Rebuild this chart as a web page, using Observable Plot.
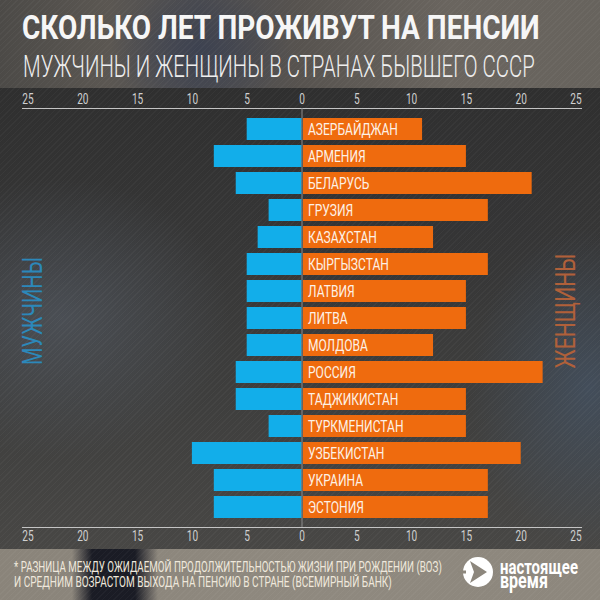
<!DOCTYPE html>
<html>
<head>
<meta charset="utf-8">
<script src="https://cdn.jsdelivr.net/npm/d3@7"></script>
<script src="https://cdn.jsdelivr.net/npm/@observablehq/plot@0.6"></script>
<style>
  html, body { margin: 0; padding: 0; }
  body { width: 600px; height: 600px; overflow: hidden; position: relative; background: #343331; font-family: Roboto, "DejaVu Sans Condensed", sans-serif; }
  .layer { position: absolute; left: 0; width: 600px; }
  #bgTop { top: 0; height: 88px;
    background:
      radial-gradient(ellipse 90px 60px at 200px 50px, rgba(50,58,80,0.55), rgba(50,58,80,0) 100%),
      linear-gradient(90deg, #4c4a47 0%, #5b5752 18%, #4a4b50 33%, #57534f 50%, #6a655f 75%, #67635d 100%); }
  #bgMid { top: 88px; height: 461px;
    background:
      radial-gradient(ellipse 170px 140px at 60px 230px, rgba(90,98,110,0.5), rgba(90,98,110,0) 100%),
      radial-gradient(ellipse 120px 160px at 590px 300px, rgba(70,88,110,0.6), rgba(70,88,110,0) 100%),
      radial-gradient(ellipse 200px 120px at 420px 120px, rgba(50,50,52,0.5), rgba(50,50,52,0) 100%),
      linear-gradient(180deg, #2f2f2f 0%, #373737 35%, #3f3f3e 70%, #484745 100%); }
  #bgBot { top: 549px; height: 51px;
    background:
      linear-gradient(90deg, rgba(20,22,32,0) 72px, rgba(20,22,32,0.95) 92px, rgba(20,22,32,0.95) 135px, rgba(20,22,32,0) 158px),
      linear-gradient(90deg, #8a847a 0%, #8f897f 50%, #8d877d 100%); }
  #stripes { top: 0; height: 600px;
    background: repeating-linear-gradient(135deg, rgba(255,255,255,0.03) 0px, rgba(255,255,255,0.03) 1px, rgba(0,0,0,0) 1px, rgba(0,0,0,0) 4px); }
  #chart { position: absolute; left: 0; top: 88px; }
  #deco { position: absolute; left: 0; top: 0; }
  #deco text { font-family: Roboto, "DejaVu Sans Condensed", sans-serif; }
</style>
</head>
<body>
<div class="layer" id="bgTop"></div>
<div class="layer" id="bgMid"></div>
<div class="layer" id="bgBot"></div>
<div class="layer" id="stripes"></div>

<svg id="deco" width="600" height="600" xmlns="http://www.w3.org/2000/svg">
  <text id="tTitle" font-weight="bold" fill="#f6f6f6">СКОЛЬКО ЛЕТ ПРОЖИВУТ НА ПЕНСИИ</text>
  <text id="tSub" font-weight="300" fill="#eeeeee">МУЖЧИНЫ И ЖЕНЩИНЫ В СТРАНАХ БЫВШЕГО СССР</text>
  <text id="tMen" text-anchor="middle" fill="#2c88ba">МУЖЧИНЫ</text>
  <text id="tWomen" text-anchor="middle" fill="#b0603a">ЖЕНЩИНЫ</text>
  <text id="tNote1" fill="#efe8dc">* РАЗНИЦА МЕЖДУ ОЖИДАЕМОЙ ПРОДОЛЖИТЕЛЬНОСТЬЮ ЖИЗНИ ПРИ РОЖДЕНИИ (ВОЗ)</text>
  <text id="tNote2" fill="#efe8dc">И СРЕДНИМ ВОЗРАСТОМ ВЫХОДА НА ПЕНСИЮ В СТРАНЕ (ВСЕМИРНЫЙ БАНК)</text>
  <g>
    <circle cx="478" cy="572" r="15" fill="#ffffff"/>
    <path d="M470,561 L487,572 L470,583 L474,572 Z" fill="#8d877d"/>
    <rect x="458" y="570.5" width="8" height="3" fill="#8d877d"/>
  </g>
  <text id="tLogo" font-weight="bold" fill="#ffffff"><tspan id="tLogo1">настоящее</tspan><tspan id="tLogo2">время</tspan></text>
</svg>

<div id="chart"></div>

<script>
const countries = ["АЗЕРБАЙДЖАН","АРМЕНИЯ","БЕЛАРУСЬ","ГРУЗИЯ","КАЗАХСТАН","КЫРГЫЗСТАН","ЛАТВИЯ","ЛИТВА","МОЛДОВА","РОССИЯ","ТАДЖИКИСТАН","ТУРКМЕНИСТАН","УЗБЕКИСТАН","УКРАИНА","ЭСТОНИЯ"];
const men   = [5, 8, 6, 3, 4, 5, 5, 5, 5, 6, 6, 3, 10, 8, 8];
const women = [11, 15, 21, 17, 12, 17, 15, 15, 12, 22, 15, 15, 20, 17, 17];
const xTicks = [-25, -20, -15, -10, -5, 0, 5, 10, 15, 20, 25];

const blue = "#12aeea";
const orange = "#ef6b0e";

const data = countries.map((c, i) => ({country: c, men: men[i], women: women[i]}));

const plot = Plot.plot({
  width: 600,
  height: 460,
  marginLeft: 22,
  marginRight: 19,
  marginTop: 20,
  marginBottom: 21,
  style: {background: "transparent", overflow: "visible", fontFamily: "Roboto, 'DejaVu Sans Condensed', sans-serif"},
  x: {domain: [-25.5, 25.5], label: null},
  y: {domain: countries, paddingInner: 0.19, paddingOuter: 0.3, axis: null},
  marks: [
    Plot.frame({anchor: "top", stroke: "#c4c4c4"}),
    Plot.frame({anchor: "bottom", stroke: "#c4c4c4"}),
    Plot.barX(data, {x: d => -d.men, y: "country", fill: blue}),
    Plot.barX(data, {x: "women", y: "country", fill: orange, insetLeft: 1.5}),
    Plot.ruleX([0], {stroke: "#8c8c8c", strokeWidth: 1}),
    Plot.text(data, {x: 0, y: "country", text: "country", textAnchor: "start", dx: 6, fill: "#fdf1e6", fontSize: 16}),
    Plot.axisX(xTicks, {anchor: "top", label: null, tickSize: 0, tickPadding: 5, tickFormat: d => Math.abs(d), fill: "#d0d0d0", fontSize: 14}),
    Plot.axisX(xTicks, {anchor: "bottom", label: null, tickSize: 0, tickPadding: 4, tickFormat: d => Math.abs(d), fill: "#d0d0d0", fontSize: 14})
  ]
});

document.getElementById("chart").appendChild(plot);

// Narrow the glyphs (like the condensed typeface of the original) by reducing
// the font size and stretching vertically about the text's own anchor.
function squeeze(t, factor) {
  const fs = parseFloat(getComputedStyle(t).fontSize);
  const tr = t.getAttribute("transform") || "";
  t.style.fontSize = (fs * factor) + "px";
  t.setAttribute("transform", `${tr} scale(1,${1 / factor})`);
}
let refLen = 0;
plot.querySelectorAll('g[aria-label="text"] text').forEach(t => {
  if (t.textContent === "АЗЕРБАЙДЖАН") refLen = t.getComputedTextLength();
});
const labelFactor = refLen ? 90 / refLen : 0.78;
plot.querySelectorAll('g[aria-label="text"] text').forEach(t => squeeze(t, labelFactor));
plot.querySelectorAll('g[aria-label^="x-axis tick label"] text').forEach(t => squeeze(t, 0.72));

// header / footer texts: width fixed by font size, height by vertical stretch
function fit(id, x, y, targetW, glyphH, glyphRatio, rotate) {
  const t = document.getElementById(id);
  t.setAttribute("font-size", 20);
  const w = t.getComputedTextLength();
  const fs = 20 * targetW / w;
  t.setAttribute("font-size", fs.toFixed(3));
  const k = glyphH / (glyphRatio * fs);
  t.setAttribute("transform", `translate(${x},${y})${rotate ? " rotate(-90)" : ""} scale(1,${k.toFixed(4)})`);
}
const CAP = 0.711, XH = 0.528;
fit("tTitle", 22, 38.5, 518, 24, CAP);
fit("tSub", 23, 77, 512, 22, CAP);
fit("tMen", 42, 311, 108, 20, CAP, true);
fit("tWomen", 575, 311, 115, 20, CAP, true);
fit("tNote1", 14, 572, 428, 10, CAP);
fit("tNote2", 14, 587, 378, 10, CAP);

// logo wordmark: one text, two lines
(function () {
  const t = document.getElementById("tLogo");
  const s1 = document.getElementById("tLogo1"), s2 = document.getElementById("tLogo2");
  s1.setAttribute("font-size", 20); s2.setAttribute("font-size", 20);
  const f1 = 20 * 78 / s1.getComputedTextLength();
  const f2 = 20 * 48 / s2.getComputedTextLength();
  s1.setAttribute("font-size", f1.toFixed(3));
  s2.setAttribute("font-size", f2.toFixed(3));
  const k = 11 / (XH * f1);
  s1.setAttribute("x", 0); s1.setAttribute("y", (574 / k).toFixed(2));
  s2.setAttribute("x", 0); s2.setAttribute("y", (588 / k).toFixed(2));
  t.setAttribute("transform", `translate(500,0) scale(1,${k.toFixed(4)})`);
})();
</script>
</body>
</html>
